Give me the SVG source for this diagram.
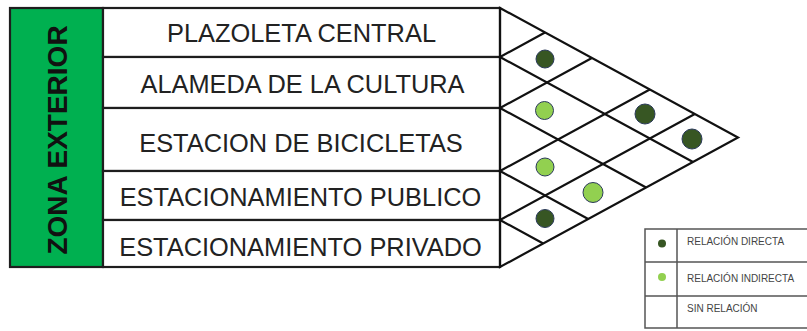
<svg xmlns="http://www.w3.org/2000/svg" width="807" height="331" viewBox="0 0 807 331">
<style>
.cell{fill:#ffffff;stroke:#1e1e1e;stroke-width:2.2}
.lbl{font-family:"Liberation Sans",Arial,sans-serif;font-size:25.4px;fill:#222222;text-anchor:middle}
.zone{font-family:"Liberation Sans",Arial,sans-serif;font-size:28px;font-weight:bold;fill:#111111;text-anchor:middle}
.grid{stroke:#111111;stroke-width:2.2;fill:none;stroke-linejoin:miter}
.dk{fill:#375623;stroke:#2b3a5a;stroke-width:1}
.lt{fill:#92d050;stroke:#2b3a5a;stroke-width:1}
.lg{fill:#ffffff;stroke:#555555;stroke-width:1.5}
.lgt{font-family:"Liberation Sans",Arial,sans-serif;font-size:10px;fill:#444444}
</style>
<rect width="807" height="331" fill="#ffffff"/>
<g id="zona-exterior">
<rect x="10" y="8" width="93" height="259" fill="#00b050" stroke="#1e1e1e" stroke-width="2.2"/>
<text class="zone" transform="translate(67,140) rotate(-90)">ZONA EXTERIOR</text>
</g>
<g id="plazoleta-central">
<rect class="cell" x="103" y="8" width="397" height="49"/>
<text class="lbl" x="301.5" y="42">PLAZOLETA CENTRAL</text>
</g>
<g id="alameda-de-la-cultura">
<rect class="cell" x="103" y="57" width="397" height="51"/>
<text class="lbl" x="302.5" y="93">ALAMEDA DE LA CULTURA</text>
</g>
<g id="estacion-de-bicicletas">
<rect class="cell" x="103" y="108" width="397" height="63"/>
<text class="lbl" x="301" y="151.5">ESTACION DE BICICLETAS</text>
</g>
<g id="estacionamiento-publico">
<rect class="cell" x="103" y="171" width="397" height="49"/>
<text class="lbl" x="300.5" y="206">ESTACIONAMIENTO PUBLICO</text>
</g>
<g id="estacionamiento-privado">
<rect class="cell" x="103" y="220" width="397" height="47"/>
<text class="lbl" x="300.5" y="255.5">ESTACIONAMIENTO PRIVADO</text>
</g>
<g id="connectors">
<polygon class="grid" points="500,8 738,137.5 500,267"/>
<polyline class="grid" points="545,32.5 500,57 693,162"/>
<polyline class="grid" points="591.9,58 500,108 646.1,187.5"/>
<polyline class="grid" points="649.8,89.5 500,171 588.2,219"/>
<polyline class="grid" points="694.8,114 500,220 543.2,243.5"/>
</g>
<g id="relaciones">
<circle class="dk" cx="545" cy="59" r="9"/>
<circle class="lt" cx="544.5" cy="110.5" r="9"/>
<circle class="lt" cx="545" cy="167" r="9"/>
<circle class="dk" cx="545" cy="218.5" r="9"/>
<circle class="lt" cx="593" cy="192.5" r="10"/>
<circle class="dk" cx="645" cy="114" r="10"/>
<circle class="dk" cx="692" cy="139" r="10"/>
</g>
<g id="leyenda">
<rect class="lg" x="645" y="229" width="170" height="99"/>
<line class="lg" x1="677" y1="229" x2="677" y2="328"/>
<line class="lg" x1="645" y1="262" x2="815" y2="262"/>
<line class="lg" x1="645" y1="296" x2="815" y2="296"/>
<circle cx="662" cy="243.5" r="4" fill="#375623"/>
<circle cx="662" cy="277" r="4" fill="#92d050"/>
<text class="lgt" x="687" y="245">RELACIÓN DIRECTA</text>
<text class="lgt" x="687" y="282">RELACIÓN INDIRECTA</text>
<text class="lgt" x="687" y="312">SIN RELACIÓN</text>
</g>
</svg>
